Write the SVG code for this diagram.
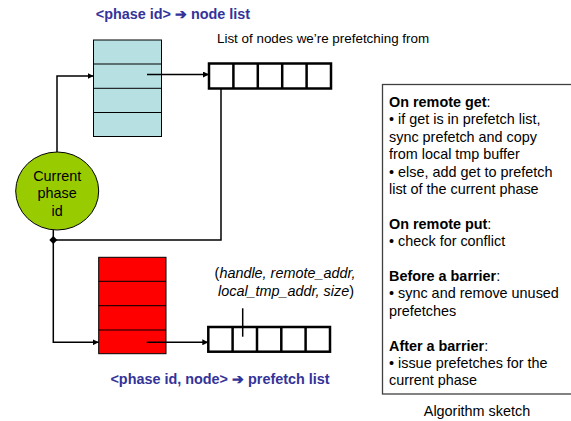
<svg xmlns="http://www.w3.org/2000/svg" width="571" height="421" viewBox="0 0 571 421">
<style>
text{font-family:"Liberation Sans",Arial,sans-serif;font-size:14.4px;fill:#000}
.title{font-weight:bold;fill:#333399;text-anchor:middle}
.tbl{stroke:#000;stroke-width:1}
.lst{fill:#fff;stroke:#000;stroke-width:2.5}
.conn{fill:none;stroke:#000;stroke-width:1.5}
.b{font-weight:bold}
</style>
<defs>
<marker id="ah" viewBox="0 0 10 10" refX="10" refY="5" markerWidth="6" markerHeight="6" markerUnits="userSpaceOnUse" orient="auto">
<path d="M0,0 L10,5 L0,10 z" fill="#000"/>
</marker>
</defs>
<rect width="571" height="421" fill="#fff"/>

<text class="title" x="173" y="19">&lt;phase id&gt; ➔ node list</text>
<text x="217" y="43" style="font-size:13.4px">List of nodes we’re prefetching from</text>

<g id="node-table">
<rect x="93.5" y="40" width="68" height="96.5" fill="#b7e0e3" class="tbl"/>
<line x1="93.5" y1="64" x2="161.5" y2="64" class="tbl"/>
<line x1="93.5" y1="88.3" x2="161.5" y2="88.3" class="tbl"/>
<line x1="93.5" y1="112.5" x2="161.5" y2="112.5" class="tbl"/>
</g>

<g id="node-list">
<rect x="209" y="63.5" width="122" height="25" class="lst"/>
<line x1="233.4" y1="63.5" x2="233.4" y2="88.5" class="lst"/>
<line x1="257.8" y1="63.5" x2="257.8" y2="88.5" class="lst"/>
<line x1="282.2" y1="63.5" x2="282.2" y2="88.5" class="lst"/>
<line x1="306.6" y1="63.5" x2="306.6" y2="88.5" class="lst"/>
</g>

<g id="current-phase">
<ellipse cx="57.2" cy="191" rx="41.5" ry="39" fill="#99cc00" stroke="#000" stroke-width="1"/>
<text x="57.2" y="181" text-anchor="middle">Current</text>
<text x="57.2" y="198.3" text-anchor="middle">phase</text>
<text x="57.2" y="215.6" text-anchor="middle">id</text>
</g>

<g id="prefetch-table">
<rect x="98.7" y="257.3" width="67.3" height="96.4" fill="#ff0000" class="tbl"/>
<line x1="98.7" y1="281.3" x2="166" y2="281.3" class="tbl"/>
<line x1="98.7" y1="305.7" x2="166" y2="305.7" class="tbl"/>
<line x1="98.7" y1="330" x2="166" y2="330" class="tbl"/>
</g>

<g id="prefetch-list">
<rect x="208.3" y="327" width="121.7" height="24.7" class="lst"/>
<line x1="232.6" y1="327" x2="232.6" y2="351.7" class="lst"/>
<line x1="257" y1="327" x2="257" y2="351.7" class="lst"/>
<line x1="281.3" y1="327" x2="281.3" y2="351.7" class="lst"/>
<line x1="305.6" y1="327" x2="305.6" y2="351.7" class="lst"/>
</g>

<g id="entry-label">
<text x="285" y="278" text-anchor="middle">(<tspan font-style="italic">handle, remote_addr,</tspan></text>
<text x="286" y="296" text-anchor="middle"><tspan font-style="italic">local_tmp_addr, size</tspan>)</text>
</g>

<text class="title" x="220" y="384">&lt;phase id, node&gt; ➔ prefetch list</text>

<g id="algorithm-box">
<rect x="382.5" y="84.5" width="192" height="309.5" fill="#fff" stroke="#404040" stroke-width="1.3"/>
<text x="389" y="107"><tspan class="b">On remote get</tspan>:</text>
<text x="389" y="124.4">• if get is in prefetch list,</text>
<text x="389" y="141.8">sync prefetch and copy</text>
<text x="389" y="159.2">from local tmp buffer</text>
<text x="389" y="176.6">• else, add get to prefetch</text>
<text x="389" y="194">list of the current phase</text>
<text x="389" y="228.8"><tspan class="b">On remote put</tspan>:</text>
<text x="389" y="246.2">• check for conflict</text>
<text x="389" y="281"><tspan class="b">Before a barrier</tspan>:</text>
<text x="389" y="298.4">• sync and remove unused</text>
<text x="389" y="315.8">prefetches</text>
<text x="389" y="350.6"><tspan class="b">After a barrier</tspan>:</text>
<text x="389" y="368">• issue prefetches for the</text>
<text x="389" y="385.4">current phase</text>
</g>
<text x="477" y="416" text-anchor="middle">Algorithm sketch</text>

<g id="connectors">
<polyline class="conn" points="57,152 57,76 93.5,76" marker-end="url(#ah)"/>
<line class="conn" x1="147" y1="74.5" x2="209" y2="74.5" marker-end="url(#ah)"/>
<polyline class="conn" points="221,88.5 221,240 53.3,240"/>
<polyline class="conn" points="53.3,230 53.3,342.3 98.7,342.3" marker-end="url(#ah)"/>
<line class="conn" x1="146.7" y1="342.3" x2="208.3" y2="342.3" marker-end="url(#ah)"/>
<line class="conn" x1="242.7" y1="308.3" x2="242.7" y2="336.7"/>
<path d="M53.3,236 L57.3,240 L53.3,244 L49.3,240 z" fill="#000"/>
</g>
</svg>
